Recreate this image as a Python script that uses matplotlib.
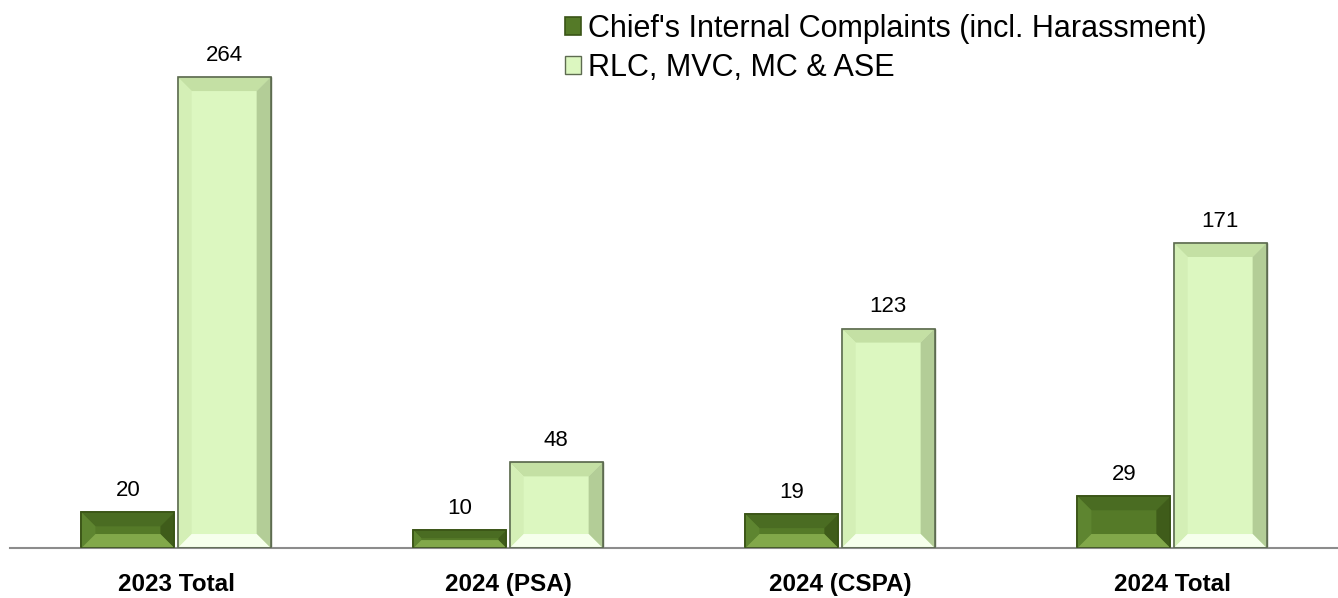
import matplotlib.pyplot as plt
import numpy as np
from matplotlib.patches import Polygon

plt.rcParams['font.family'] = ['Liberation Sans', 'DejaVu Sans']

categories = ['2023 Total', '2024 (PSA)', '2024 (CSPA)', '2024 Total']
chief = [20, 10, 19, 29]
rlc = [264, 48, 123, 171]
series_names = ["Chief's Internal Complaints (incl. Harassment)", 'RLC, MVC, MC & ASE']

fig = plt.figure(figsize=(13.38, 5.98), dpi=100)
ax = fig.add_axes([0.0075, 0.0836, 0.9925, 0.883])

x = np.arange(len(categories))
w = 0.28
gap = 0.005
b1 = ax.bar(x - w / 2 - gap, chief, w, color='#557a28', edgecolor='#3a5416', linewidth=1.2,
            label=series_names[0])
b2 = ax.bar(x + w / 2 + gap, rlc, w, color='#dcf7c0', edgecolor='#5d6b50', linewidth=1.0,
            label=series_names[1])

ax.set_xlim(-0.5, len(categories) - 0.5)
ax.set_ylim(0, 296)

for bars in (b1, b2):
    for r in bars:
        ax.annotate(f'{r.get_height():.0f}', (r.get_x() + r.get_width() / 2, r.get_height()),
                    xytext=(0, 8), textcoords='offset points', ha='center', va='bottom',
                    fontsize=16)

# bevel faces, built in display space from the drawn bars
fig.canvas.draw()
faces = {
    'dark': dict(top='#4a6c22', left='#5e8530', right='#3f5c1a', bottom='#82a84a'),
    'light': dict(top='#c4e0a4', left='#d4efb6', right='#b3cd97', bottom='#f6ffec'),
}
for bars, key in ((b1, 'dark'), (b2, 'light')):
    f = faces[key]
    for r in bars:
        x0, y0 = ax.transData.transform((r.get_x(), 0))
        x1, y1 = ax.transData.transform((r.get_x() + r.get_width(), r.get_height()))
        d = min(14, (y1 - y0) / 2 - 1, (x1 - x0) / 2)
        ix0, ix1, iy0, iy1 = x0 + d, x1 - d, y0 + d, y1 - d
        polys = [
            ([(x0, y1), (x1, y1), (ix1, iy1), (ix0, iy1)], f['top']),
            ([(x0, y0), (x0, y1), (ix0, iy1), (ix0, iy0)], f['left']),
            ([(x1, y0), (x1, y1), (ix1, iy1), (ix1, iy0)], f['right']),
            ([(x0, y0), (x1, y0), (ix1, iy0), (ix0, iy0)], f['bottom']),
        ]
        for pts, c in polys:
            ax.add_patch(Polygon(pts, closed=True, facecolor=c, edgecolor='none',
                                 transform=None, zorder=2.5))
        ax.add_patch(Polygon([(x0, y0), (x1, y0), (x1, y1), (x0, y1)], closed=True,
                             facecolor='none', edgecolor=r.get_edgecolor(), linewidth=1.2,
                             transform=None, zorder=2.6))

ax.set_xticks(x)
ax.set_xticklabels(categories, fontsize=17.5, fontweight='bold')
ax.tick_params(axis='x', length=0, pad=18)
ax.set_yticks([])
for s in ('top', 'right', 'left'):
    ax.spines[s].set_visible(False)
ax.spines['bottom'].set_color('#8c8c8c')
ax.spines['bottom'].set_linewidth(1.5)

leg = fig.legend(handles=[b1, b2], labels=series_names, loc='upper left',
                 bbox_to_anchor=(0.402, 1.023), frameon=False, fontsize=22,
                 handlelength=0.5, handleheight=0.5, handletextpad=0.25, labelspacing=0.3)

fig.savefig('out.png', dpi=100)
